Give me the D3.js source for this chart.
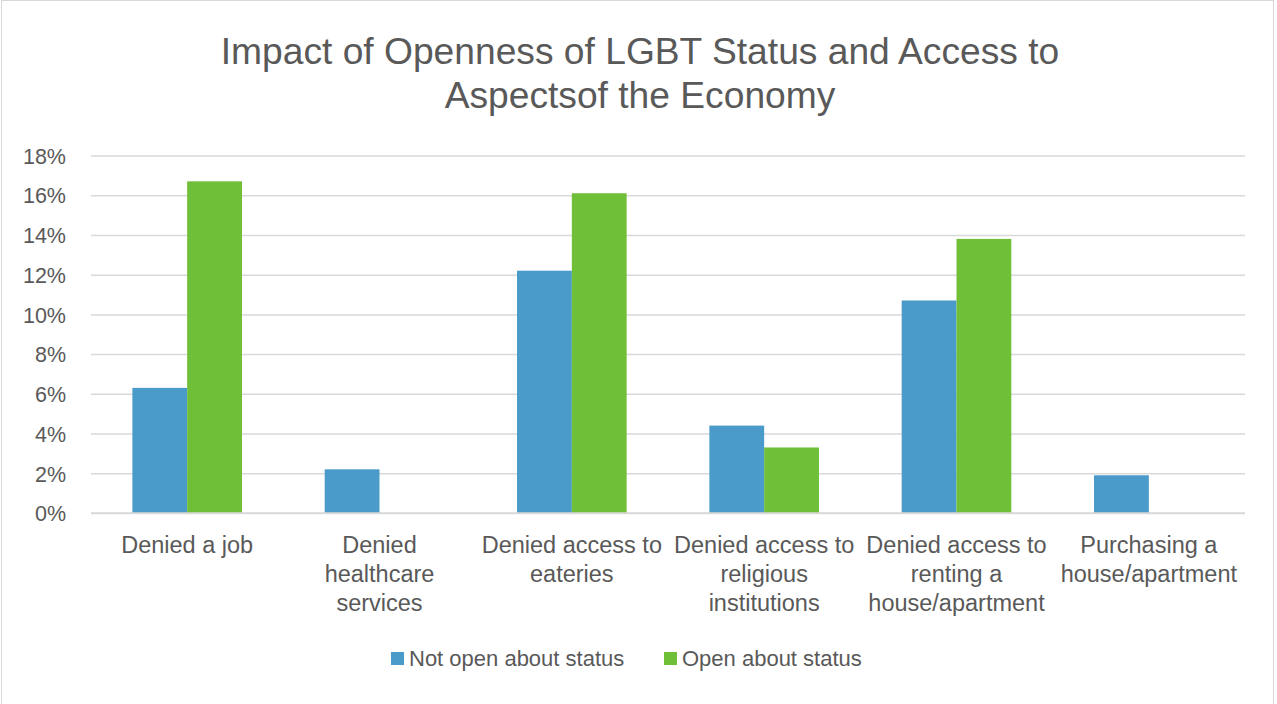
<!DOCTYPE html>
<html>
<head>
<meta charset="utf-8">
<script src="https://cdn.jsdelivr.net/npm/d3@7"></script>
<style>
  html, body { margin: 0; padding: 0; background: #fff; }
  svg { display: block; font-family: "Liberation Sans", Arial, Helvetica, sans-serif; }
</style>
</head>
<body>
<svg id="chart" width="1277" height="704"></svg>
<script>
// Chart data
const categories = [
  ["Denied a job"],
  ["Denied", "healthcare", "services"],
  ["Denied access to", "eateries"],
  ["Denied access to", "religious", "institutions"],
  ["Denied access to", "renting a", "house/apartment"],
  ["Purchasing a", "house/apartment"]
];
const seriesNames = ["Not open about status", "Open about status"];
const notOpen = [0.063, 0.022, 0.122, 0.044, 0.107, 0.019];
const open    = [0.167, 0,     0.161, 0.033, 0.138, 0];
const yTicks  = [0, 0.02, 0.04, 0.06, 0.08, 0.10, 0.12, 0.14, 0.16, 0.18];
const titleLines = ["Impact of Openness of LGBT Status and Access to", "Aspectsof the Economy"];

const colors = ["#4a9bca", "#70bf39"];
const textColor = "#595959";

const W = 1277, H = 704;
const plot = { left: 91, right: 1245, top: 155.5, bottom: 513 };

const svg = d3.select("#chart");

// outer chart frame
svg.append("rect")
  .attr("x", 1.5).attr("y", 0.5)
  .attr("width", 1272).attr("height", 704)
  .attr("fill", "#fff").attr("stroke", "#d9d9d9").attr("stroke-width", 1);

// title
svg.append("g").selectAll("text")
  .data(titleLines).join("text")
  .attr("x", 640).attr("y", (d, i) => 63.5 + i * 44)
  .attr("text-anchor", "middle")
  .attr("font-size", 37.2)
  .attr("fill", textColor)
  .text(d => d);

const keys = categories.map((c, i) => i);
const x0 = d3.scaleBand().domain(keys).range([plot.left, plot.right]).padding(0);
const step = x0.step();
const gap = step * 0.215;
const x1 = d3.scaleBand().domain([0, 1]).range([gap, step - gap]).padding(0);
const y = d3.scaleLinear().domain([0, 0.18]).range([plot.bottom, plot.top]);

// gridlines via the y axis
const yAxis = d3.axisLeft(y).tickValues(yTicks).tickFormat(d3.format(".0%"))
  .tickSize(-(plot.right - plot.left)).tickPadding(25);
const gy = svg.append("g").attr("transform", `translate(${plot.left},0)`).call(yAxis);
gy.select(".domain").remove();
gy.selectAll(".tick line").attr("stroke", "#d9d9d9").attr("stroke-width", 1.5);
gy.selectAll(".tick text")
  .attr("font-size", 21.5).attr("fill", textColor)
  .attr("font-family", "Liberation Sans, Arial, sans-serif")
  .attr("dy", "0.36em");

// bars
const rows = keys.map(i => ({ i, vals: [notOpen[i], open[i]] }));
const groups = svg.append("g").selectAll("g")
  .data(rows).join("g")
  .attr("transform", d => `translate(${x0(d.i)},0)`);
groups.selectAll("rect")
  .data(d => d.vals.map((v, s) => ({ v, s })))
  .join("rect")
  .attr("x", d => x1(d.s))
  .attr("width", x1.bandwidth())
  .attr("y", d => y(d.v))
  .attr("height", d => y(0) - y(d.v))
  .attr("fill", d => colors[d.s]);

// baseline
svg.append("line")
  .attr("x1", plot.left).attr("x2", plot.right)
  .attr("y1", y(0)).attr("y2", y(0))
  .attr("stroke", "#d9d9d9").attr("stroke-width", 1.5);

// category labels
const xl = svg.append("g").selectAll("text")
  .data(rows).join("text")
  .attr("x", d => x0(d.i) + step / 2)
  .attr("y", 553)
  .attr("text-anchor", "middle")
  .attr("font-size", 23.5)
  .attr("fill", textColor);
xl.selectAll("tspan")
  .data(d => categories[d.i].map(t => ({ t, cx: x0(d.i) + step / 2 })))
  .join("tspan")
  .attr("x", d => d.cx)
  .attr("dy", (d, j) => j === 0 ? 0 : 29)
  .text(d => d.t);

// legend
const legendItems = [
  { name: seriesNames[0], color: colors[0], x: 391 },
  { name: seriesNames[1], color: colors[1], x: 664 }
];
const lg = svg.append("g").selectAll("g").data(legendItems).join("g")
  .attr("transform", d => `translate(${d.x},0)`);
lg.append("rect").attr("x", 0).attr("y", 652).attr("width", 13).attr("height", 13)
  .attr("fill", d => d.color);
lg.append("text").attr("x", 18).attr("y", 666)
  .attr("font-size", 22).attr("fill", textColor).text(d => d.name);
</script>
</body>
</html>
